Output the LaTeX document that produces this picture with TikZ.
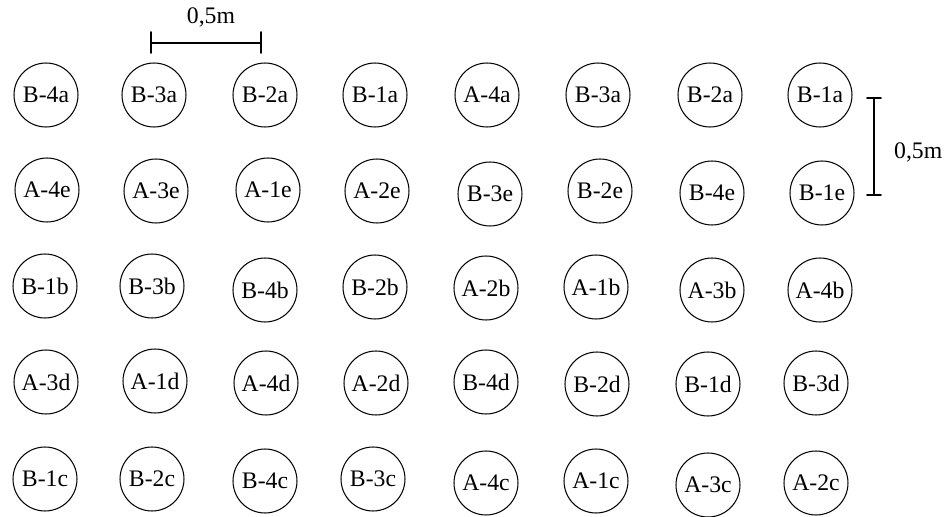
\documentclass[tikz,border=0pt]{standalone}
\usepackage{fontspec}
\setmainfont{Liberation Serif}

\begin{document}
\begin{tikzpicture}[x=0.02cm,y=-0.02cm,font=\fontsize{13.5}{16}\selectfont,line cap=round,
  hole/.style={draw,circle,minimum size=1.28cm,inner sep=0pt,line width=0.6pt},
  bar/.style={line width=1.1pt}]
\useasboundingbox (0,0) rectangle (948,517);
% scale bars
\coordinate (hl) at (151,43);
\coordinate (hr) at (261,43);
\draw[bar] (hl) -- (hr);
\draw[bar] (151,32) -- (151,53);
\draw[bar] (261,32) -- (261,53);
\node (hlabel) at (211,17) {0,5m};
\coordinate (vt) at (874,98);
\coordinate (vb) at (874,195);
\draw[bar] (vt) -- (vb);
\draw[bar] (867,98) -- (881,98);
\draw[bar] (867,195) -- (881,195);
\node[right] (vlabel) at (888,152) {0,5m};
% row a
\node[hole] (r1c1) at (46,95) {B-4a};
\node[hole] (r1c2) at (154,95) {B-3a};
\node[hole] (r1c3) at (265,95) {B-2a};
\node[hole] (r1c4) at (375,95) {B-1a};
\node[hole] (r1c5) at (487,95) {A-4a};
\node[hole] (r1c6) at (598,95) {B-3a};
\node[hole] (r1c7) at (710,95) {B-2a};
\node[hole] (r1c8) at (820,95) {B-1a};
% row e
\node[hole] (r2c1) at (47,190) {A-4e};
\node[hole] (r2c2) at (156,191) {A-3e};
\node[hole] (r2c3) at (268,190) {A-1e};
\node[hole] (r2c4) at (377,191) {A-2e};
\node[hole] (r2c5) at (490,194) {B-3e};
\node[hole] (r2c6) at (600,191) {B-2e};
\node[hole] (r2c7) at (712,193) {B-4e};
\node[hole] (r2c8) at (822,193) {B-1e};
% row b
\node[hole] (r3c1) at (45,286) {B-1b};
\node[hole] (r3c2) at (152,286) {B-3b};
\node[hole] (r3c3) at (265,290) {B-4b};
\node[hole] (r3c4) at (375,287) {B-2b};
\node[hole] (r3c5) at (486,288) {A-2b};
\node[hole] (r3c6) at (596,287) {A-1b};
\node[hole] (r3c7) at (712,290) {A-3b};
\node[hole] (r3c8) at (820,290) {A-4b};
% row d
\node[hole] (r4c1) at (46,382) {A-3d};
\node[hole] (r4c2) at (155,381) {A-1d};
\node[hole] (r4c3) at (266,383) {A-4d};
\node[hole] (r4c4) at (376,383) {A-2d};
\node[hole] (r4c5) at (486,382) {B-4d};
\node[hole] (r4c6) at (597,384) {B-2d};
\node[hole] (r4c7) at (708,384) {B-1d};
\node[hole] (r4c8) at (816,383) {B-3d};
% row c
\node[hole] (r5c1) at (45,479) {B-1c};
\node[hole] (r5c2) at (152,479) {B-2c};
\node[hole] (r5c3) at (265,481) {B-4c};
\node[hole] (r5c4) at (373,479) {B-3c};
\node[hole] (r5c5) at (486,483) {A-4c};
\node[hole] (r5c6) at (596,481) {A-1c};
\node[hole] (r5c7) at (708,485) {A-3c};
\node[hole] (r5c8) at (816,483) {A-2c};
\end{tikzpicture}
\end{document}
